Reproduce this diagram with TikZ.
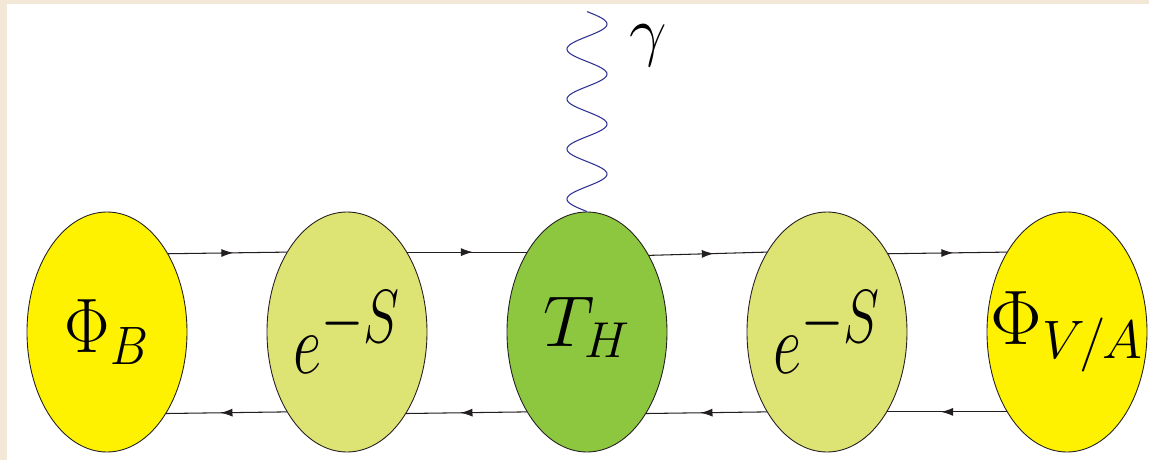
\documentclass[tikz,border=0pt]{standalone}
\usepackage{fix-cm}
\usepackage{graphicx}
\definecolor{fyellow}{RGB}{255,242,0}
\definecolor{flime}{RGB}{222,228,116}
\definecolor{fgreen}{RGB}{141,198,63}
\definecolor{fnavy}{RGB}{46,49,146}
\definecolor{fbeige}{RGB}{243,232,216}
\definecolor{fline}{RGB}{35,31,32}
\usetikzlibrary{arrows.meta,shapes.geometric,decorations.markings}

\begin{document}
\begin{tikzpicture}[
  blob/.style={ellipse,draw=fline,line width=0.5pt,minimum width=3.2cm,minimum height=4.8cm,inner sep=0pt},
  prop/.style={draw=fline,line width=0.6pt,postaction={decorate},
    decoration={markings,mark=at position 0.55 with {\arrow{Latex[length=2.4mm,width=1.6mm]}}}},
  photon/.style={draw=fnavy,line width=0.6pt}
]
  % Frame
  \fill[fbeige] (-11.74,-2.56) rectangle (11.24,6.64);
  \fill[white] (-11.6,-2.56) rectangle (11.24,6.56);
  \useasboundingbox (-11.74,-2.56) rectangle (11.24,6.64);
  % Blobs
  \node[blob,fill=fyellow] (phiB) at (-9.6,0) {};
  \node[blob,fill=flime] (expL) at (-4.8,0) {};
  \node[blob,fill=fgreen] (tH) at (0,0) {};
  \node[blob,fill=flime] (expR) at (4.8,0) {};
  \node[blob,fill=fyellow] (phiVA) at (9.6,0) {};
  % Labels
  \node[font=\fontsize{44}{50}\selectfont] (phiBtxt) at (phiB.center) {\scalebox{0.88}[1]{$\Phi_B$}};
  \node[font=\fontsize{49}{55}\selectfont] (expLtxt) at (expL.center) {\scalebox{0.72}[1]{$e^{\scalebox{1.25}{$\scriptstyle -S$}}$}};
  \node[font=\fontsize{41}{46}\selectfont] (tHtxt) at ([yshift=1mm]tH.center) {$T_H$};
  \node[font=\fontsize{49}{55}\selectfont] (expRtxt) at (expR.center) {\scalebox{0.72}[1]{$e^{\scalebox{1.25}{$\scriptstyle -S$}}$}};
  \node[font=\fontsize{44}{50}\selectfont] (phiVAtxt) at (phiVA.center) {$\Phi_{V/A}$};
  % Upper lines
  \draw[prop] (phiB.52.7) -- (expL.127.3);
  \draw[prop] (expL.53.9) -- (tH.127.3);
  \draw[prop] (tH.51.4) -- (expR.127.3);
  \draw[prop] (expR.52.7) -- (phiVA.127.3);
  % Lower lines
  \draw[prop] (expL.233.9) -- (phiB.306.1);
  \draw[prop] (tH.233.9) -- (expL.306.1);
  \draw[prop] (expR.233.9) -- (tH.306.1);
  \draw[prop] (phiVA.233.9) -- (expR.307.3);
  % Photon
  \begin{scope}[shift={(tH.north)}]
    \coordinate (gamTop) at (0,4);
    \draw[photon] plot[domain=0:4,samples=161,smooth] ({-0.4*sin(360*\x)},\x);
  \end{scope}
  \node[font=\fontsize{38}{44}\selectfont] (gamLbl) at ([xshift=1.22cm,yshift=-0.68cm]gamTop) {$\gamma$};
\end{tikzpicture}
\end{document}
